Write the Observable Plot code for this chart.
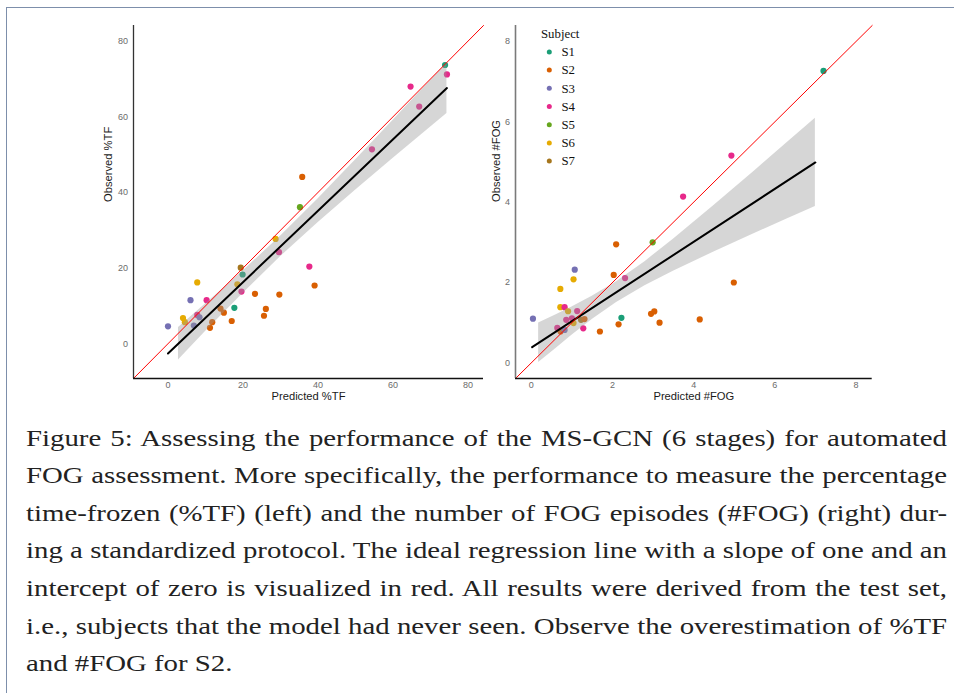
<!DOCTYPE html>
<html><head><meta charset="utf-8">
<script src="https://cdn.jsdelivr.net/npm/d3@7"></script>
<script src="https://cdn.jsdelivr.net/npm/@observablehq/plot@0.6"></script>
<style>
html,body{margin:0;padding:0;background:#fff;overflow:hidden;width:954px;height:693px}
#frame{position:absolute;left:6px;top:7px;width:1000px;height:800px;border-left:1px solid #7d8fab;border-top:1px solid #7d8fab;box-sizing:border-box}
#left{position:absolute;left:0;top:0}
#right{position:absolute;left:480px;top:0}
#legend{position:absolute;left:0;top:0}
#caption{position:absolute;left:26px;top:419.8px;width:921px;font-family:"Liberation Serif","Times New Roman",serif;font-size:24px;line-height:37.55px;color:#222}
#caption .ln{white-space:nowrap;height:37.55px}
#caption .ln span{display:inline-block;transform-origin:0 50%;white-space:nowrap}
</style></head>
<body>
<div id="frame"></div>
<div id="left"></div>
<div id="right"></div>
<svg id="legend" width="954" height="200"></svg>
<div id="caption"></div>
<script>
// ---------- data ----------
const subjects = ["S1","S2","S3","S4","S5","S6","S7"];
const subjectColors = ["#1b9e77","#d95f02","#7570b3","#e7298a","#66a61e","#e6ab02","#a6761d"];

// %TF panel
const tfPredicted = [0.0,6.0,7.8,10.3,4.0,4.5,6.9,7.8,8.4,11.2,11.8,14.0,14.9,17.0,17.7,18.5,19.4,19.9,19.6,23.2,26.1,25.6,28.7,29.6,29.7,35.2,35.8,37.7,39.1,54.4,64.7,67.0,73.9,74.4];
const tfObserved  = [4.6,11.5,16.2,11.5,6.8,5.7,4.8,7.6,7.0,4.2,5.7,9.3,8.2,6.0,9.5,15.7,20.1,18.3,13.8,13.2,9.2,7.4,27.7,24.2,13.0,36.1,44.1,20.4,15.4,51.4,68.0,62.7,73.7,71.2];
const tfSubject   = ["S3","S3","S6","S4","S6","S6","S3","S4","S3","S2","S2","S2","S2","S2","S1","S6","S7","S1","S4","S2","S2","S2","S6","S4","S2","S5","S2","S4","S2","S4","S4","S4","S1","S4"];
const tfFitX = [0.0, 74.4];
const tfFitY = [-2.6, 67.6];
const tfBandX  = [2.8, 10, 20, 30, 40, 50, 60, 74.4];
const tfBandLo = [-4.3, 3.2, 13.3, 23.0, 32.0, 40.6, 49.0, 60.9];
const tfBandHi = [4.3, 10.5, 19.2, 28.4, 38.3, 48.6, 59.0, 74.3];
const tfDomain = [-9.2, 84.15];
const tfTicks = [0, 20, 40, 60, 80];

// #FOG panel
const fogPredicted = [0.04,0.715,1.07,1.04,0.715,0.82,0.905,1.13,0.86,1.0,1.04,1.225,1.31,1.28,0.64,0.72,0.82,1.69,2.15,2.22,2.03,2.31,2.09,2.95,3.03,3.16,2.99,3.74,4.15,4.93,4.99,7.20];
const fogObserved  = [1.10,1.84,2.32,2.08,1.385,1.385,1.285,1.29,1.07,1.11,0.99,1.07,1.09,0.86,0.87,0.78,0.82,0.78,0.96,1.12,2.19,2.11,2.95,1.22,1.28,1.0,3.0,4.14,1.08,5.16,2.0,7.27];
const fogSubject   = ["S3","S6","S3","S6","S6","S4","S6","S4","S4","S4","S6","S7","S2","S4","S4","S2","S3","S2","S2","S1","S2","S4","S2","S2","S2","S2","S5","S4","S2","S4","S2","S1"];
const fogFitX = [0.02, 7.0];
const fogFitY = [0.39, 4.99];
const fogBandX  = [0.18, 0.6, 1.0, 1.5, 2.1, 2.8, 3.5, 4.5, 5.5, 6.3, 7.0];
const fogBandLo = [0.01, 0.35, 0.69, 1.08, 1.50, 1.92, 2.28, 2.76, 3.22, 3.58, 3.89];
const fogBandHi = [0.99, 1.19, 1.39, 1.66, 2.02, 2.52, 3.08, 3.92, 4.78, 5.48, 6.09];
const fogDomain = [-0.39, 8.40];
const fogTicks = [0, 2, 4, 6, 8];

const captionLines = [
  "Figure 5: Assessing the performance of the MS-GCN (6 stages) for automated",
  "FOG assessment. More specifically, the performance to measure the percentage",
  "time-frozen (%TF) (left) and the number of FOG episodes (#FOG) (right) dur-",
  "ing a standardized protocol. The ideal regression line with a slope of one and an",
  "intercept of zero is visualized in red. All results were derived from the test set,",
  "i.e., subjects that the model had never seen. Observe the overestimation of %TF",
  "and #FOG for S2."
];

// ---------- build ----------
function panel(o) {
  const pts = o.px.map((x, i) => ({x, y: o.py[i], s: o.ps[i]}));
  const band = o.bx.map((x, i) => ({x, lo: o.blo[i], hi: o.bhi[i]}));
  const fit = o.fx.map((x, i) => ({x, y: o.fy[i]}));
  const ident = o.domain.map(v => ({x: v, y: v}));
  return Plot.plot({
    width: o.width, height: 410,
    marginLeft: o.ml, marginRight: o.mr, marginTop: 25, marginBottom: 32,
    style: {fontFamily: "'Liberation Sans', Arial, sans-serif", background: "transparent", overflow: "visible"},
    x: {domain: o.domain},
    y: {domain: o.domain},
    color: {domain: subjects, range: subjectColors},
    marks: [
      Plot.axisX({ticks: o.ticks, tickSize: 0, tickPadding: 3.5, fontSize: 9, fill: "#6b6b6b", label: null}),
      Plot.axisY({ticks: o.ticks, tickSize: 0, tickPadding: 5.5, fontSize: 9, fill: "#6b6b6b", label: null}),
      Plot.dot(pts, {x: "x", y: "y", fill: "s", r: 3.1}),
      Plot.areaY(band, {x: "x", y1: "lo", y2: "hi", fill: "#999999", fillOpacity: 0.4}),
      Plot.line(fit, {x: "x", y: "y", stroke: "black", strokeWidth: 2}),
      Plot.line(ident, {x: "x", y: "y", stroke: "#ff0000", strokeWidth: 1}),
      Plot.ruleX([o.domain[0]], {stroke: o.yAxisColor, strokeWidth: o.yAxisWidth}),
      Plot.ruleY([o.domain[0]], {stroke: "#111", strokeWidth: 1.3}),
      Plot.text([o.xlabel], {frameAnchor: "bottom", dy: 21, fontSize: 11.2, fill: "#1a1a1a"}),
      Plot.text([o.ylabel], {frameAnchor: "left", dx: o.ydx, rotate: -90, fontSize: 11.2, fill: "#1a1a1a"})
    ]
  });
}

document.getElementById("left").append(panel({
  width: 490, ml: 133, mr: 7,
  px: tfPredicted, py: tfObserved, ps: tfSubject,
  bx: tfBandX, blo: tfBandLo, bhi: tfBandHi,
  fx: tfFitX, fy: tfFitY, domain: tfDomain, ticks: tfTicks,
  xlabel: "Predicted %TF", ylabel: "Observed %TF", ydx: -24.7,
  yAxisColor: "#333", yAxisWidth: 1.3
}));
document.getElementById("right").append(panel({
  width: 400, ml: 35, mr: 8.3,
  px: fogPredicted, py: fogObserved, ps: fogSubject,
  bx: fogBandX, blo: fogBandLo, bhi: fogBandHi,
  fx: fogFitX, fy: fogFitY, domain: fogDomain, ticks: fogTicks,
  xlabel: "Predicted #FOG", ylabel: "Observed #FOG", ydx: -19.5,
  yAxisColor: "#7a7a7a", yAxisWidth: 1.6
}));

// legend
const color = d3.scaleOrdinal(subjects, subjectColors);
const lg = d3.select("#legend").style("font-family", "'Liberation Serif', serif").style("fill", "#111");
lg.append("text").attr("x", 541).attr("y", 37.7).attr("font-size", 12.8).text("Subject");
subjects.forEach((s, i) => {
  lg.append("circle").attr("cx", 549.3).attr("cy", 51.9 + 18.2 * i).attr("r", 2.5).attr("fill", color(s));
  lg.append("text").attr("x", 561.5).attr("y", 56.2 + 18.2 * i).attr("font-size", 12.8).text(s);
});

// caption: each line stretched to the full justified width
const cap = document.getElementById("caption");
const W = 921;
const spans = captionLines.map(t => {
  const d = document.createElement("div");
  d.className = "ln";
  const sp = document.createElement("span");
  sp.textContent = t;
  d.append(sp); cap.append(d);
  return sp;
});
const scales = [];
spans.forEach((sp, i) => {
  if (i === spans.length - 1) return;
  const t = captionLines[i];
  const gaps = t.split(" ").length - 1;
  const w = sp.getBoundingClientRect().width;
  const sc = Math.min(W / w, 1.2);
  scales.push(sc);
  const extra = (W / sc - w) / gaps;
  sp.style.wordSpacing = extra + "px";
  sp.style.transform = "scaleX(" + sc + ")";
});
const avg = scales.reduce((a, b) => a + b, 0) / scales.length;
spans[spans.length - 1].style.transform = "scaleX(" + avg + ")";
</script>
</body></html>
